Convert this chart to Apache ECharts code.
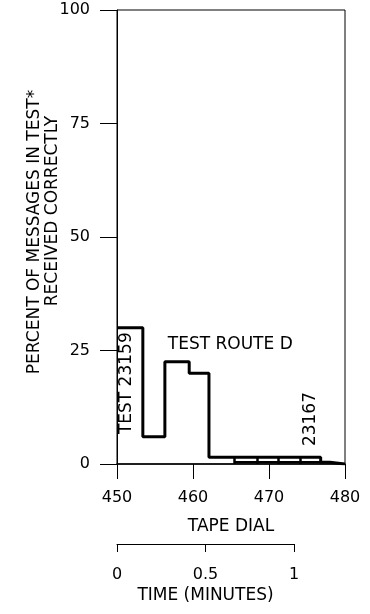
<!DOCTYPE html>
<html>
<head>
<meta charset="utf-8">
<script src="https://cdn.jsdelivr.net/npm/echarts@6/dist/echarts.min.js"></script>
<style>html,body{margin:0;padding:0;background:#fff}#c{width:370px;height:614px}</style>
</head>
<body>
<div id="c"></div>
<script>
// Step outline: tape dial position where each level starts, and its percent value
const tapeDial = [450, 453.4, 456.3, 459.5, 462.1, 476.8, 478, 480];
const percentCorrect = [30, 6, 22.5, 20, 1.5, 0.4, 0, 0];
// lower strip along the bottom run, with small separator marks
const stripDial = [465.4, 476.8];
const stripLevel = 0.4;
const separatorDial = [465.4, 468.4, 471.2, 474.1];
const separatorHeight = 1.5;
const yTicks = [0, 25, 50, 75, 100];
const xTicks = [450, 460, 470, 480];
const timeTicks = [0, 0.5, 1];
const yTitleLines = ['PERCENT OF MESSAGES IN TEST*', 'RECEIVED CORRECTLY'];
// annotations: [dial, percent, text, rotate]
const annotations = [
  [451.2, 17.8, 'TEST 23159', 90],
  [464.9, 26.2, 'TEST ROUTE D', 0],
  [475.5, 9.9, '23167', 90]
];

const FONT = 'DejaVu Sans';
const chart = echarts.init(document.getElementById('c'));
chart.setOption({
  backgroundColor: '#fff',
  animation: false,
  textStyle: { fontFamily: FONT, color: '#000' },
  grid: [
    { left: 117, right: 25, top: 10, bottom: 150, show: true, borderColor: '#000', borderWidth: 1 },
    { left: 117, width: 177, top: 544, height: 0 }
  ],
  graphic: [
    { type: 'text', x: 35, y: 232, rotation: Math.PI / 2,
      style: { text: yTitleLines[0], fontSize: 17, fontFamily: FONT, fill: '#000', align: 'center', verticalAlign: 'middle' } },
    { type: 'text', x: 53, y: 211, rotation: Math.PI / 2,
      style: { text: yTitleLines[1], fontSize: 17, fontFamily: FONT, fill: '#000', align: 'center', verticalAlign: 'middle' } }
  ],
  xAxis: [
    {
      gridIndex: 0, type: 'value', min: xTicks[0], max: xTicks[xTicks.length - 1], interval: 10,
      name: 'TAPE DIAL', nameLocation: 'middle', nameGap: 54,
      nameTextStyle: { fontSize: 17, color: '#000', fontFamily: FONT },
      axisLine: { show: true, onZero: false, lineStyle: { color: '#000', width: 1.5 } },
      axisTick: { show: true, length: 15, lineStyle: { color: '#000', width: 1 } },
      axisLabel: { margin: 26, fontSize: 16, color: '#000', fontFamily: FONT },
      splitLine: { show: false }
    },
    {
      gridIndex: 1, type: 'value', min: timeTicks[0], max: timeTicks[timeTicks.length - 1], interval: 0.5,
      position: 'bottom',
      name: 'TIME (MINUTES)', nameLocation: 'middle', nameGap: 43,
      nameTextStyle: { fontSize: 17, color: '#000', fontFamily: FONT },
      axisLine: { show: true, lineStyle: { color: '#000', width: 1 } },
      axisTick: { show: true, length: 8, lineStyle: { color: '#000', width: 1 } },
      axisLabel: { margin: 23, fontSize: 16, color: '#000', fontFamily: FONT },
      splitLine: { show: false }
    }
  ],
  yAxis: [
    {
      gridIndex: 0, type: 'value', min: yTicks[0], max: yTicks[yTicks.length - 1], interval: 25,
      axisLine: { show: true, lineStyle: { color: '#000', width: 1 } },
      axisTick: { show: true, length: 17, lineStyle: { color: '#000', width: 1 } },
      axisLabel: { margin: 27, fontSize: 16, color: '#000', fontFamily: FONT },
      splitLine: { show: false }
    },
    {
      gridIndex: 1, type: 'value', show: false, min: 0, max: 1
    }
  ],
  series: [
    {
      type: 'line', xAxisIndex: 0, yAxisIndex: 0, step: 'end', symbol: 'none',
      data: tapeDial.map((d, i) => [d, percentCorrect[i]]),
      lineStyle: { color: '#000', width: 3 },
      markLine: {
        silent: true, symbol: 'none', label: { show: false },
        lineStyle: { color: '#000', width: 2.5, type: 'solid' },
        data: separatorDial.map(d => [{ coord: [d, 0] }, { coord: [d, separatorHeight] }])
      }
    },
    {
      type: 'line', xAxisIndex: 0, yAxisIndex: 0, symbol: 'none',
      data: stripDial.map(d => [d, stripLevel]),
      lineStyle: { color: '#000', width: 2.5 }
    },
    {
      type: 'scatter', xAxisIndex: 0, yAxisIndex: 0, symbolSize: 0,
      itemStyle: { opacity: 1, color: '#000' },
      data: annotations.map(a => ({
        value: [a[0], a[1]],
        label: { show: true, position: 'inside', formatter: a[2], rotate: a[3], fontSize: 17,
          color: '#000', opacity: 1, textBorderWidth: 0, fontFamily: FONT }
      }))
    }
  ]
});
</script>
</body>
</html>
